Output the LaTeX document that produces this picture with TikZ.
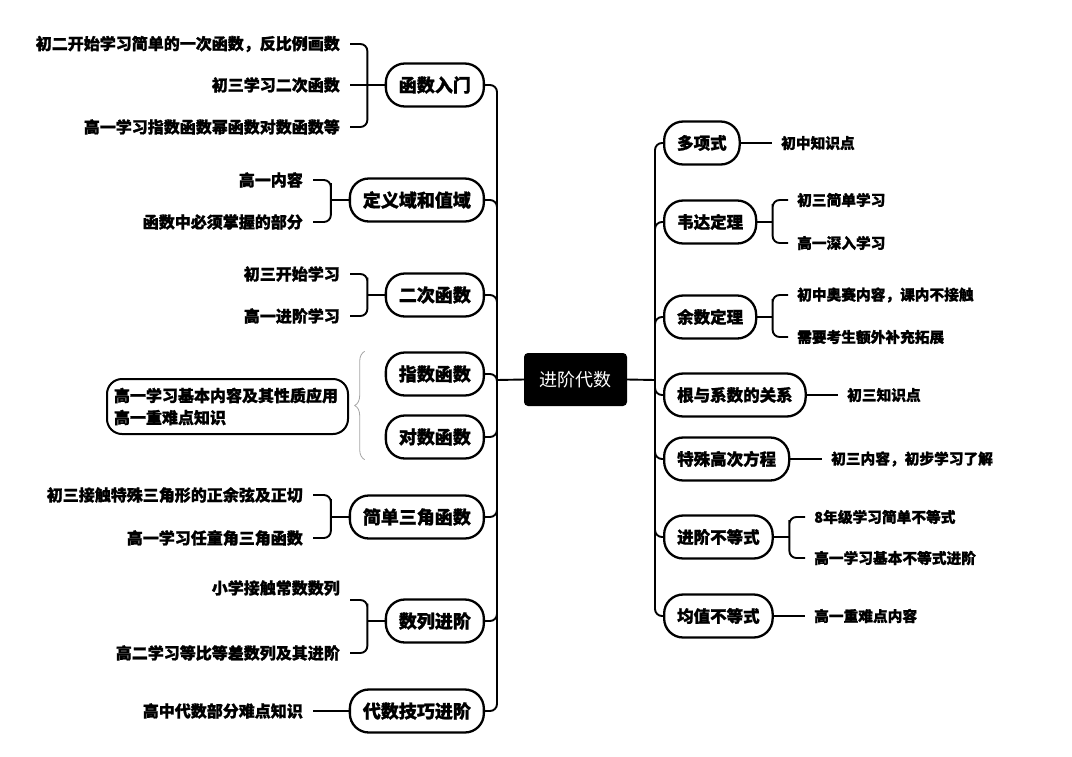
\documentclass[tikz,border=0pt]{standalone}
\usepackage{fontspec}
\setmainfont{Noto Sans CJK SC}[BoldFeatures={FakeBold=1.2}]
\usetikzlibrary{calc,decorations.pathreplacing}
\begin{document}
\begin{tikzpicture}[x=1pt,y=-1pt,
  topic/.style={draw, line width=2.3pt, rounded corners=19pt, minimum height=43pt, inner xsep=13pt, fill=white, font=\fontsize{18}{20}\selectfont\bfseries},
  rtopic/.style={topic, anchor=west, font=\fontsize{16.5}{19}\selectfont\bfseries},
  ltopic/.style={topic, anchor=east},
  leafl/.style={anchor=east, inner xsep=10pt, inner ysep=0pt, font=\fontsize{16}{19}\selectfont\bfseries},
  leafr/.style={anchor=west, inner xsep=9pt, inner ysep=0pt, font=\fontsize{14.7}{17}\selectfont\bfseries},
  ln/.style={line width=1.9pt, rounded corners=7pt},
]
\fill[white] (0,0) rectangle (1072,756);
\useasboundingbox (0,0) rectangle (1072,756);

% centre
\node[fill=black, text=white, rounded corners=4pt, minimum width=103pt, minimum height=53pt, font=\fontsize{18}{20}\selectfont] (C) at (575.5,379.5) {进阶代数};
\coordinate (LJ) at (497,380);
\coordinate (RJ) at (655,380);

% left topics
\node[ltopic] (A) at (485,85) {函数入门};
\node[ltopic] (B) at (485,200) {定义域和值域};
\node[ltopic] (D) at (485,295) {二次函数};
\node[ltopic] (X) at (485,374) {指数函数};
\node[ltopic] (Y) at (485,437) {对数函数};
\node[ltopic] (T) at (485,517) {简单三角函数};
\node[ltopic] (S) at (485,621) {数列进阶};
\node[ltopic] (G) at (485,711) {代数技巧进阶};

% right topics
\node[rtopic] (P) at (663,143) {多项式};
\node[rtopic] (W) at (663,222) {韦达定理};
\node[rtopic] (R) at (663,317) {余数定理};
\node[rtopic] (K) at (663,395) {根与系数的关系};
\node[rtopic] (H) at (663,459) {特殊高次方程};
\node[rtopic] (I) at (663,537) {进阶不等式};
\node[rtopic] (J) at (663,616) {均值不等式};

% left leaves
\node[leafl] (a1) at (350,44) {初二开始学习简单的一次函数，反比例画数};
\node[leafl] (a2) at (350,85) {初三学习二次函数};
\node[leafl] (a3) at (350,127) {高一学习指数函数幂函数对数函数等};
\node[leafl] (b1) at (313,180) {高一内容};
\node[leafl] (b2) at (313,222) {函数中必须掌握的部分};
\node[leafl] (d1) at (350,274) {初三开始学习};
\node[leafl] (d2) at (350,316) {高一进阶学习};
\node[leafl] (t1) at (313,495) {初三接触特殊三角形的正余弦及正切};
\node[leafl] (t2) at (313,538) {高一学习任童角三角函数};
\node[leafl] (s1) at (350,588) {小学接触常数数列};
\node[leafl] (s2) at (350,653) {高二学习等比等差数列及其进阶};
\node[leafl] (g1) at (313,711) {高中代数部分难点知识};
\coordinate (s1e) at (350,600);

\node[draw, line width=2pt, rounded corners=15pt, anchor=north west, minimum width=241pt, minimum height=55pt, text width=227pt, align=left, inner xsep=7pt, font=\fontsize{16}{22}\selectfont\bfseries] (Q) at (106,378) {高一学习基本内容及其性质应用\\高一重难点知识};
\draw[gray!70, line width=0.8pt, decorate, decoration={brace, amplitude=10pt}] (X.north west) ++(-20,0) coordinate (bt) (Y.south west) ++(-20,0) coordinate (bb) (bb) -- (bt);

% right leaves
\node[leafr] (p1) at (772,143) {初中知识点};
\node[leafr] (w1) at (788,200) {初三简单学习};
\node[leafr] (w2) at (788,243) {高一深入学习};
\node[leafr] (r1) at (788,295) {初中奥赛内容，课内不接触};
\node[leafr] (r2) at (788,337) {需要考生额外补充拓展};
\node[leafr] (k1) at (838,395) {初三知识点};
\node[leafr] (h1) at (822,459) {初三内容，初步学习了解};
\node[leafr] (i1) at (805,517) {8年级学习简单不等式};
\node[leafr] (i2) at (805,558) {高一学习基本不等式进阶};
\node[leafr] (j1) at (805,616) {高一重难点内容};

% spines
\draw[ln] (C.west) -- (LJ);
\draw[ln] (C.east) -- (RJ);
\foreach \n in {A,B,D,X,Y,T,S,G} \draw[ln] (LJ) |- (\n.east);
\foreach \n in {P,W,R,K,H,I,J} \draw[ln] (RJ) |- (\n.west);

% left brackets
\coordinate (am) at ($(a1.east)!.5!(A.west)$);
\draw[ln] (a1.east) -| (am) |- (a3.east);
\draw[ln] (A.west) -- (a2.east);
\coordinate (bm) at ($(b1.east)!.5!(B.west)$);
\draw[ln] (b1.east) -| (bm) |- (b2.east);
\draw[ln] (B.west) -- (bm |- B.west);
\coordinate (dm) at ($(d1.east)!.5!(D.west)$);
\draw[ln] (d1.east) -| (dm) |- (d2.east);
\draw[ln] (D.west) -- (dm |- D.west);
\coordinate (tm) at ($(t1.east)!.5!(T.west)$);
\draw[ln] (t1.east) -| (tm) |- (t2.east);
\draw[ln] (T.west) -- (tm |- T.west);
\coordinate (sm) at ($(s1e)!.5!(S.west)$);
\draw[ln] (s1e) -| (sm) |- (s2.east);
\draw[ln] (S.west) -- (sm |- S.west);
\draw[ln] (G.west) -- (g1.east);

% right brackets
\draw[ln] (P.east) -- (p1.west);
\coordinate (wm) at ($(w1.west)!.5!(W.east)$);
\draw[ln] (w1.west) -| (wm) |- (w2.west);
\draw[ln] (W.east) -- (wm |- W.east);
\coordinate (rm) at ($(r1.west)!.5!(R.east)$);
\draw[ln] (r1.west) -| (rm) |- (r2.west);
\draw[ln] (R.east) -- (rm |- R.east);
\draw[ln] (K.east) -- (k1.west);
\draw[ln] (H.east) -- (h1.west);
\coordinate (im) at ($(i1.west)!.5!(I.east)$);
\draw[ln] (i1.west) -| (im) |- (i2.west);
\draw[ln] (I.east) -- (im |- I.east);
\draw[ln] (J.east) -- (j1.west);
\end{tikzpicture}
\end{document}
